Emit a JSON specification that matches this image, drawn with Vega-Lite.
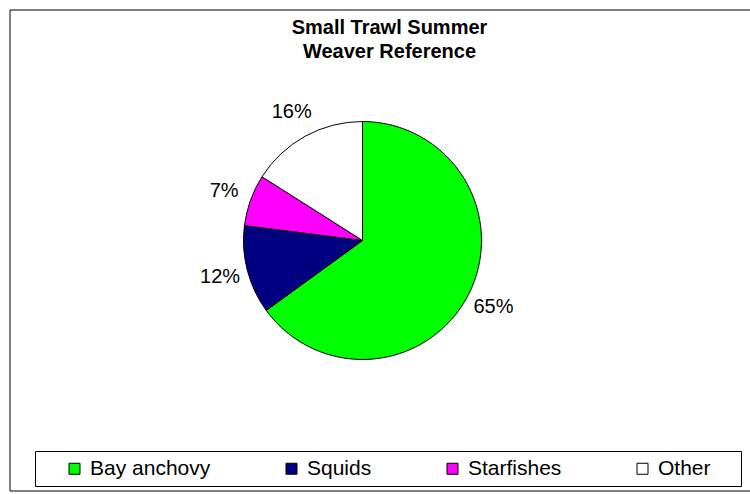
{
  "$schema": "https://vega.github.io/schema/vega-lite/v6.json",
  "width": 750,
  "height": 494,
  "autosize": {"type": "fit", "contains": "padding"},
  "padding": {"left": 9, "top": 9, "right": -20, "bottom": 2},
  "background": "white",
  "config": {
    "view": {"stroke": null},
    "font": "Liberation Sans"
  },
  "title": {
    "text": ["Small Trawl Summer", "Weaver Reference"],
    "font": "Liberation Sans",
    "fontSize": 20,
    "fontWeight": "bold",
    "color": "black",
    "anchor": "middle",
    "frame": "group",
    "offset": -52,
    "lineHeight": 24
  },
  "data": {
    "values": [
      {"category": "Bay anchovy", "value": 65, "label": "65%", "idx": 1},
      {"category": "Squids", "value": 12, "label": "12%", "idx": 2},
      {"category": "Starfishes", "value": 7, "label": "7%", "idx": 3},
      {"category": "Other", "value": 16, "label": "16%", "idx": 4}
    ]
  },
  "layer": [
    {
      "data": {"values": [{"frame": "chart area"}]},
      "mark": {
        "type": "rect",
        "fill": "white",
        "stroke": "black",
        "strokeWidth": 1
      },
      "encoding": {}
    },
    {
      "mark": {
        "type": "arc",
        "radius": 119,
        "stroke": "black",
        "strokeWidth": 1,
        "x": {"expr": "width/2 - 27"},
        "y": {"expr": "height/2 - 10"}
      },
      "encoding": {
        "theta": {"field": "value", "type": "quantitative", "stack": true},
        "order": {"field": "idx", "type": "quantitative"},
        "color": {
          "field": "category",
          "type": "nominal",
          "sort": ["Bay anchovy", "Squids", "Starfishes", "Other"],
          "scale": {
            "domain": ["Bay anchovy", "Squids", "Starfishes", "Other"],
            "range": ["#00FF00", "#000080", "#FF00FF", "#FFFFFF"]
          },
          "legend": {
            "title": "\u00a0",
            "titleOrient": "right",
            "titleFontSize": 1,
            "titlePadding": 23,
            "orient": "none",
            "legendX": 25,
            "legendY": 441,
            "direction": "horizontal",
            "strokeColor": "black",
            "fillColor": "white",
            "padding": 7,
            "symbolType": "square",
            "symbolSize": 121,
            "symbolStrokeColor": "black",
            "symbolStrokeWidth": 1,
            "symbolOffset": 22,
            "labelFont": "Liberation Sans",
            "labelFontSize": 21,
            "labelColor": "black",
            "labelOffset": 5,
            "columnPadding": 48
          }
        }
      }
    },
    {
      "mark": {
        "type": "text",
        "radius": 147,
        "font": "Liberation Sans",
        "fontSize": 20,
        "color": "black",
        "x": {"expr": "width/2 - 27"},
        "y": {"expr": "height/2 - 10"}
      },
      "encoding": {
        "theta": {"field": "value", "type": "quantitative", "stack": true},
        "order": {"field": "idx", "type": "quantitative"},
        "text": {"field": "label", "type": "nominal"}
      }
    }
  ]
}
